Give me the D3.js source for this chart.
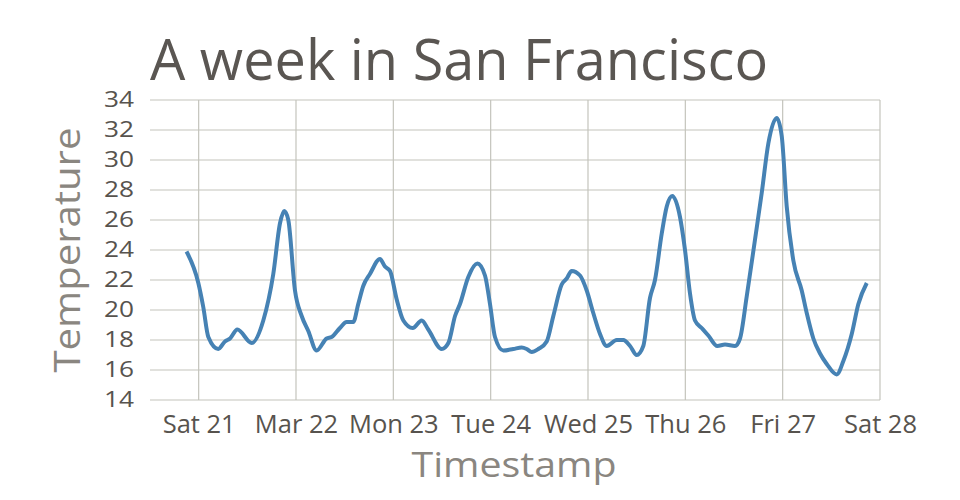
<!DOCTYPE html>
<html>
<head>
<meta charset="utf-8">
<script src="https://cdn.jsdelivr.net/npm/d3@7"></script>
<style>
  html, body { margin: 0; padding: 0; background: #fff; }
  svg { display: block; font-family: "Open Sans", sans-serif; }
</style>
</head>
<body>
<svg id="chart" width="960" height="500"></svg>
<script>
// ---- data ----
const times = [
  "2015-03-20T21:00","2015-03-20T23:55","2015-03-21T01:08","2015-03-21T02:23","2015-03-21T04:50",
  "2015-03-21T06:29","2015-03-21T07:44","2015-03-21T09:32","2015-03-21T13:05","2015-03-21T15:56",
  "2015-03-21T18:24","2015-03-21T20:04","2015-03-21T21:07","2015-03-21T22:06","2015-03-21T23:45",
  "2015-03-22T01:24","2015-03-22T03:02","2015-03-22T05:05","2015-03-22T07:33","2015-03-22T08:47",
  "2015-03-22T10:50","2015-03-22T12:29","2015-03-22T14:07","2015-03-22T15:21","2015-03-22T16:35",
  "2015-03-22T18:14","2015-03-22T20:42","2015-03-22T21:56","2015-03-22T23:11","2015-03-23T00:50",
  "2015-03-23T02:28","2015-03-23T04:47","2015-03-23T07:00","2015-03-23T08:37","2015-03-23T11:56",
  "2015-03-23T13:34","2015-03-23T15:13","2015-03-23T16:26","2015-03-23T18:29","2015-03-23T20:43",
  "2015-03-23T22:36","2015-03-23T23:50","2015-03-24T01:04","2015-03-24T03:07","2015-03-24T05:35",
  "2015-03-24T07:39","2015-03-24T08:53","2015-03-24T10:07","2015-03-24T11:45","2015-03-24T13:49",
  "2015-03-24T15:27","2015-03-24T17:31","2015-03-24T18:45","2015-03-24T19:59","2015-03-24T22:02",
  "2015-03-24T23:41","2015-03-25T01:18","2015-03-25T02:58","2015-03-25T04:37","2015-03-25T07:05",
  "2015-03-25T08:43","2015-03-25T10:22","2015-03-25T12:01","2015-03-25T13:38","2015-03-25T15:17",
  "2015-03-25T16:31","2015-03-25T18:11","2015-03-25T19:25","2015-03-25T20:47","2015-03-25T22:41",
  "2015-03-25T23:55","2015-03-26T01:09","2015-03-26T02:23","2015-03-26T04:02","2015-03-26T05:40",
  "2015-03-26T07:53","2015-03-26T09:47","2015-03-26T12:15","2015-03-26T13:29","2015-03-26T15:08",
  "2015-03-26T17:11","2015-03-26T18:50","2015-03-26T20:28","2015-03-26T22:32","2015-03-26T23:46",
  "2015-03-27T01:00","2015-03-27T02:38","2015-03-27T04:42","2015-03-27T05:56","2015-03-27T07:34",
  "2015-03-27T09:13","2015-03-27T10:52","2015-03-27T13:20","2015-03-27T14:58","2015-03-27T17:02",
  "2015-03-27T18:40","2015-03-27T20:44"
];
const temperatures = [
  23.9, 21.8, 20.2, 18.2, 17.4,
  17.9, 18.1, 18.7, 17.8, 19.3,
  22.4, 25.8, 26.6, 26.0, 21.3,
  19.6, 18.6, 17.3, 18.1, 18.2,
  18.8, 19.2, 19.2, 20.4, 21.6,
  22.4, 23.4, 22.9, 22.6, 20.7,
  19.3, 18.8, 19.3, 18.7, 17.4,
  17.8, 19.6, 20.4, 22.2, 23.1,
  22.3, 20.4, 18.2, 17.3, 17.4,
  17.5, 17.4, 17.2, 17.4, 17.9,
  19.6, 21.7, 22.1, 22.6, 22.3,
  21.3, 19.8, 18.4, 17.6, 18.0,
  18.0, 17.6, 17.0, 17.6, 20.8,
  22.0, 25.1, 26.9, 27.6, 26.2,
  24.0, 21.1, 19.3, 18.8, 18.3,
  17.6, 17.7, 17.6, 18.1, 20.9,
  24.7, 27.8, 31.1, 32.8, 31.6,
  26.9, 23.3, 21.3, 19.8, 18.1,
  17.1, 16.4, 15.7, 16.6, 18.4,
  20.4, 21.8
];
const xTickDates = ["2015-03-21","2015-03-22","2015-03-23","2015-03-24","2015-03-25","2015-03-26","2015-03-27","2015-03-28"];
const xTickLabels = ["Sat 21","Mar 22","Mon 23","Tue 24","Wed 25","Thu 26","Fri 27","Sat 28"];
const yTicks = [14, 16, 18, 20, 22, 24, 26, 28, 30, 32, 34];
const xDomain = ["2015-03-20T12:00", "2015-03-28T00:00"];
const yDomain = [14, 34];
const titleText = "A week in San Francisco";
const xLabel = "Timestamp";
const yLabel = "Temperature";

// ---- chart ----
const parseT = d3.utcParse("%Y-%m-%dT%H:%M");
const parseD = d3.utcParse("%Y-%m-%d");
const data = times.map((t, i) => ({ t: parseT(t), v: temperatures[i] }));

const margin = { left: 150, right: 80, top: 100, bottom: 100 };
const W = 960, H = 500;
const svg = d3.select("#chart");

const x = d3.scaleUtc().domain(xDomain.map(parseT)).range([margin.left, W - margin.right]);
const y = d3.scaleLinear().domain(yDomain).range([H - margin.bottom, margin.top]);

const gridColor = "#c4c4bc";
const tickColor = "#57534e";
const labelColor = "#8a8680";

// horizontal grid
svg.append("g").attr("class", "ygrid")
  .selectAll("line").data(yTicks).join("line")
  .attr("x1", margin.left).attr("x2", W - margin.right)
  .attr("y1", d => y(d)).attr("y2", d => y(d))
  .attr("stroke", gridColor).attr("stroke-width", 1.2);

// vertical grid
const xTickVals = xTickDates.map(parseD);
svg.append("g").attr("class", "xgrid")
  .selectAll("line").data(xTickVals).join("line")
  .attr("x1", d => x(d)).attr("x2", d => x(d))
  .attr("y1", margin.top).attr("y2", H - margin.bottom)
  .attr("stroke", gridColor).attr("stroke-width", 1.2);

// x axis labels
const xAxis = d3.axisBottom(x).tickValues(xTickVals)
  .tickFormat((d, i) => xTickLabels[i]).tickSize(0).tickPadding(12);
const gx = svg.append("g").attr("transform", `translate(0,${H - margin.bottom})`).call(xAxis);
gx.select(".domain").remove();
gx.selectAll("text").attr("fill", tickColor).attr("font-size", 25.5)
  .attr("font-family", "'Open Sans', sans-serif").attr("dy", "0.82em");

// y axis labels (slightly wide in the reference)
const yAxis = d3.axisLeft(y).tickValues(yTicks).tickSize(0).tickPadding(16);
const gy = svg.append("g").attr("transform", `translate(${margin.left},0)`).call(yAxis);
gy.select(".domain").remove();
gy.selectAll("text").attr("fill", tickColor).attr("font-size", 21.5)
  .attr("font-family", "'Open Sans', sans-serif")
  .each(function () {
    const len = this.getComputedTextLength();
    d3.select(this).attr("textLength", len * 1.22).attr("lengthAdjust", "spacingAndGlyphs");
  });

// line
const line = d3.line().x(d => x(d.t)).y(d => y(d.v)).curve(d3.curveMonotoneX);
svg.append("path").datum(data)
  .attr("d", line)
  .attr("fill", "none")
  .attr("stroke", "#4682b4")
  .attr("stroke-width", 4)
  .attr("stroke-linejoin", "round")
  .attr("stroke-linecap", "butt");

// title
svg.append("text").attr("x", 150).attr("y", 80)
  .attr("font-size", 56).attr("fill", "#5a5652")
  .attr("textLength", 618).attr("lengthAdjust", "spacingAndGlyphs")
  .text(titleText);

// axis titles
svg.append("text").attr("x", 514).attr("y", 477)
  .attr("text-anchor", "middle").attr("font-size", 35).attr("fill", labelColor)
  .attr("textLength", 205).attr("lengthAdjust", "spacingAndGlyphs")
  .text(xLabel);

svg.append("text").attr("transform", "translate(80,250) rotate(-90)")
  .attr("text-anchor", "middle").attr("font-size", 37).attr("fill", labelColor)
  .attr("textLength", 245).attr("lengthAdjust", "spacingAndGlyphs")
  .text(yLabel);
</script>
</body>
</html>
